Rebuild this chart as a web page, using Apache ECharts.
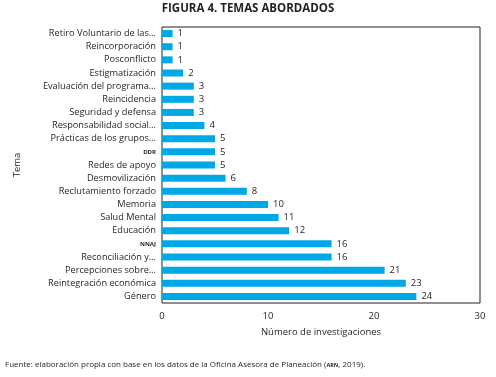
<!DOCTYPE html>
<html><head><meta charset="utf-8">
<script src="https://cdn.jsdelivr.net/npm/echarts@6/dist/echarts.min.js"></script>
<style>html,body{margin:0;padding:0;background:#fff}#c{width:496px;height:377px}</style>
</head><body><div id="c"></div>
<script>
var categories = ["Retiro Voluntario de las…","Reincorporación","Posconflicto","Estigmatización","Evaluación del programa…","Reincidencia","Seguridad y defensa","Responsabilidad social…","Prácticas de los grupos…","DDR","Redes de apoyo","Desmovilización","Reclutamiento forzado","Memoria","Salud Mental","Educación","NNAJ","Reconciliación y…","Percepciones sobre…","Reintegración económica","Género"];
var values = [1,1,1,2,3,3,3,4,5,5,5,6,8,10,11,12,16,16,21,23,24];
var xTicks = [0,10,20,30];
var FONT = "Open Sans";
var chart = echarts.init(document.getElementById('c'));
chart.setOption({
  animation:false,
  title:{text:"FIGURA 4. TEMAS ABORDADOS",left:'center',top:-2,textStyle:{fontFamily:FONT,fontWeight:'bold',fontSize:11.5,color:'#231f20'}},
  grid:{left:162,right:16,top:27,bottom:74,show:true,borderColor:'#231f20',borderWidth:1,backgroundColor:'transparent'},
  xAxis:{type:'value',min:0,max:30,interval:10,
    axisLine:{show:false},axisTick:{show:false},splitLine:{show:false},
    axisLabel:{fontFamily:FONT,fontSize:9.5,color:'#231f20',margin:8},
    name:"Número de investigaciones",nameLocation:'middle',nameGap:24,
    nameTextStyle:{fontFamily:FONT,fontSize:9.5,color:'#231f20'}},
  yAxis:{type:'category',data:categories,inverse:true,
    axisLine:{show:false},axisTick:{show:false},
    axisLabel:{fontFamily:FONT,fontSize:9.2,color:'#231f20',margin:6,
      formatter:function(v){ return (v==='DDR'||v==='NNAJ')?'{sc|'+v+'}':v; },
      rich:{sc:{fontFamily:FONT,fontSize:6,fontWeight:'bold',color:'#231f20'}}},
    name:"Tema",nameLocation:'middle',nameGap:140,nameRotate:90,
    nameTextStyle:{fontFamily:FONT,fontSize:9.5,color:'#231f20'}},
  series:[{type:'bar',data:values,barWidth:7,itemStyle:{color:'#00a8e6'},
    label:{show:true,position:'right',distance:5,fontFamily:FONT,fontSize:9.5,color:'#231f20'}}],
  graphic:[{type:'text',left:5,top:361,style:{rich:{a:{fontFamily:FONT,fontSize:8,fill:'#231f20'},s:{fontFamily:FONT,fontSize:5.5,fontWeight:'bold',fill:'#231f20'}},
    text:"{a|Fuente: elaboración propia con base en los datos de la Oficina Asesora de Planeación (}{s|ARN}{a|, 2019).}"}}]
});
</script></body></html>
